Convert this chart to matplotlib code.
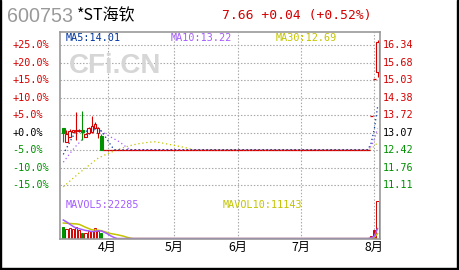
import matplotlib
matplotlib.use("Agg")
import matplotlib.pyplot as plt
import numpy as np
import pandas as pd
from matplotlib.patches import Rectangle
from matplotlib.transforms import blended_transform_factory as blend

# ---------------- data ----------------
stock_code = "600753"
stock_name = "*ST海钦"
quote_text = "7.66 +0.04 (+0.52%)"
base_close = 13.07

# closes / volumes before the visible window (needed for the moving averages)
prior_close = [9.90, 9.95, 10.00, 10.10, 10.15, 10.25, 10.30, 10.40, 10.45, 10.55,
               10.60, 10.70, 10.75, 10.85, 10.90, 11.00, 11.05, 11.15, 11.20, 11.30,
               11.45, 11.55, 11.65, 11.75, 11.95, 11.85, 12.00, 12.10, 12.25]
prior_volume = [26500, 27500, 28500, 28500, 30000, 43000, 47000, 46000, 46300]

# trading days in March before suspension
march_open = [13.24, 12.73, 12.91, 13.10, 13.12, 13.12, 13.16, 12.91, 13.04, 13.10, 13.23, 13.04, 12.95]
march_high = [13.24, 13.16, 13.19, 13.18, 13.82, 13.20, 13.88, 13.05, 13.28, 13.70, 13.48, 13.26, 13.00]
march_low = [12.73, 12.73, 12.90, 13.08, 12.79, 13.08, 12.79, 12.91, 13.02, 13.06, 13.20, 12.86, 12.43]
march_close = [13.06, 13.00, 13.13, 13.16, 13.16, 13.16, 13.10, 13.00, 13.25, 13.30, 13.38, 13.23, 12.43]
march_volume = [26700, 21500, 23000, 21500, 25300, 19200, 11700, 13100, 16900, 16900, 23000, 16900, 11700]

# suspension period (flat line)
suspended_days = 84
suspended_price = 12.43

# trading days after resumption
resume_open = [13.68, 15.05, 15.32]
resume_high = [13.68, 15.05, 16.53]
resume_low = [13.68, 15.05, 15.14]
resume_close = [13.68, 15.05, 16.46]
resume_volume = [6700, 20025, 84701]

month_labels = ["4月", "5月", "6月", "7月", "8月"]
month_start_index = [14, 35, 55, 75, 98]

pct_ticks = [25, 20, 15, 10, 5, 0, -5, -10, -15]
pct_labels = ["+25.0%", "+20.0%", "+15.0%", "+10.0%", "+5.0%", "+0.0%", "-5.0%", "-10.0%", "-15.0%"]
price_labels = ["16.34", "15.68", "15.03", "14.38", "13.72", "13.07", "12.42", "11.76", "11.11"]

# ---------------- build series ----------------
opens = march_open + [suspended_price] * suspended_days + resume_open
highs = march_high + [suspended_price] * suspended_days + resume_high
lows = march_low + [suspended_price] * suspended_days + resume_low
closes = march_close + [suspended_price] * suspended_days + resume_close
vols = march_volume + [0] * suspended_days + resume_volume
n = len(closes)
idx = np.arange(n)

all_close = pd.Series(prior_close + closes)
all_vol = pd.Series(prior_volume + vols, dtype=float)
ma5 = all_close.rolling(5).mean().values[-n:]
ma10 = all_close.rolling(10).mean().values[-n:]
ma30 = all_close.rolling(30).mean().values[-n:]
mv5 = all_vol.rolling(5).mean().values[-n:]
mv10 = all_vol.rolling(10).mean().values[-n:]

# ---------------- style ----------------
RED = "#d40000"
GREEN = "#009000"
MA5_C = "#00359c"
MA10_C = "#a45cff"
MA30_C = "#c4c400"
GRID = "#a8a8a8"
FRAME = "#9a9a9a"
MONO = "DejaVu Sans Mono"
CJK = ["Noto Sans CJK SC", "DejaVu Sans"]

W, H = 460, 270
fig = plt.figure(figsize=(W / 100, H / 100), dpi=100)
fig.patch.set_facecolor("white")


def fx(px):
    return px / W


def fy(py):
    return 1 - py / H


L_, R_, T_, MID, B_ = 60, 380, 32, 197, 239
xl = ((L_ - 63.3) / 3.174, (R_ - 63.3) / 3.174)

ax_frame = fig.add_axes([fx(L_), fy(B_), fx(R_) - fx(L_), (B_ - T_) / H])
ax_frame.set_xticks([]); ax_frame.set_yticks([])
for s in ax_frame.spines.values():
    s.set_color(FRAME); s.set_linewidth(1.2)
ax_frame.set_zorder(5); ax_frame.patch.set_alpha(0)

ax = fig.add_axes([fx(L_), fy(MID), fx(R_) - fx(L_), (MID - T_) / H])
axv = fig.add_axes([fx(L_), fy(B_), fx(R_) - fx(L_), (B_ - MID) / H])
for a in (ax, axv):
    a.set_xlim(*xl)
    a.axis("off")

p_per_px = base_close * 0.05 / 17.5
ax.set_ylim(base_close - (MID - 132.5) * p_per_px, base_close + (132.5 - T_) * p_per_px)
v_per_px = vols[-1] / 37.5
axv.set_ylim(-0.5 * v_per_px, (B_ - MID - 0.5) * v_per_px)

grid_dash = (0, (1.3, 1.6))
tick_prices = [base_close * (1 + p / 100) for p in pct_ticks]
for tp in tick_prices:
    ax.axhline(tp, color=GRID, lw=0.8, ls=grid_dash, zorder=1)
for m in month_start_index:
    ax.axvline(m, color=GRID, lw=0.8, ls=grid_dash, zorder=1)
    axv.axvline(m, color=GRID, lw=0.8, ls=grid_dash, zorder=1)

# moving averages
dots = (0, (1, 2.2))
ax.plot(idx, ma30, color=MA30_C, lw=0.9, ls=dots, zorder=2)
ax.plot(idx, ma10, color=MA10_C, lw=0.9, ls=dots, zorder=2)
ax.plot(idx, ma5, color=MA5_C, lw=0.9, ls=dots, zorder=2)

# candles
bw = 0.8
for i in range(n):
    o, h, l, c = opens[i], highs[i], lows[i], closes[i]
    if c == o:
        ax.hlines(c, i - 0.5, i + 0.5, color=RED, lw=0.9, zorder=3)
        if h > l:
            ax.vlines(i, l, h, color=RED, lw=0.8, zorder=3)
        continue
    up = c > o
    col = RED if up else GREEN
    lo, hi = min(o, c), max(o, c)
    if h > hi:
        ax.vlines(i, hi, h, color=col, lw=0.8, zorder=3)
    if l < lo:
        ax.vlines(i, l, lo, color=col, lw=0.8, zorder=3)
    ax.add_patch(Rectangle((i - bw / 2, lo), bw, hi - lo,
                           facecolor="white" if up else col, edgecolor=col,
                           lw=0.8, zorder=4))

# volume bars
vw = 0.7
for i in range(n):
    v = vols[i]
    if v <= 0:
        continue
    up = closes[i] > opens[i]
    col = GREEN if closes[i] < opens[i] else RED
    axv.add_patch(Rectangle((i - vw / 2, 0), vw, v,
                            facecolor="white" if up else col, edgecolor=col,
                            lw=0.7, zorder=3))
axv.plot(idx, mv10, color=MA30_C, lw=1.1, zorder=4)
axv.plot(idx, mv5, color=MA10_C, lw=1.1, zorder=4)

# axis labels
tr_left = blend(fig.transFigure, ax.transData)
for tp, pl, rl, p in zip(tick_prices, pct_labels, price_labels, pct_ticks):
    col = RED if p > 0 else ("black" if p == 0 else GREEN)
    fig.text(fx(12.5), tp, pl, transform=tr_left, color=col, fontsize=7.3,
             family=MONO, ha="left", va="center")
    fig.text(fx(383), tp, rl, transform=tr_left, color=col, fontsize=7.3,
             family=MONO, ha="left", va="center")

tr_month = blend(axv.transData, fig.transFigure)
for m, lab in zip(month_start_index, month_labels):
    fig.text(m, fy(247.5), lab, transform=tr_month, family=CJK, fontsize=8.8,
             ha="center", va="center", color="black")

# MA legends
fig.text(fx(65.5), fy(38), f"MA5:{ma5[-1]:.2f}", color=MA5_C, family=MONO, fontsize=7.3, va="center")
fig.text(fx(170.5), fy(38), f"MA10:{ma10[-1]:.2f}", color=MA10_C, family=MONO, fontsize=7.3, va="center")
fig.text(fx(276), fy(38), f"MA30:{ma30[-1]:.2f}", color=MA30_C, family=MONO, fontsize=7.3, va="center")
fig.text(fx(65.5), fy(205.5), f"MAVOL5:{mv5[-1]:.0f}", color=MA10_C, family=MONO, fontsize=7.3, va="center")
fig.text(fx(222.5), fy(205.5), f"MAVOL10:{mv10[-1]:.0f}", color=MA30_C, family=MONO, fontsize=7.3, va="center")

# watermark
fig.text(fx(69), fy(66), "CFi.CN", color="#d6d6d6", family="Liberation Sans",
         fontweight="bold", fontsize=20, va="center", ha="left", zorder=0)

# header
fig.text(fx(7.5), fy(16), stock_code, color="#999999", family="Liberation Sans",
         fontsize=14.2, va="center", ha="left")
fig.text(fx(76.5), fy(15.5), stock_name, color="black", family=CJK,
         fontsize=11.5, va="center", ha="left")
fig.text(fx(222.5), fy(15.5), quote_text, color=RED, family=MONO,
         fontsize=9.4, va="center", ha="left")

# outer black border (left, right, bottom)
fig.patches.append(Rectangle((0, 0), fx(1), 1, transform=fig.transFigure, color="black"))
fig.patches.append(Rectangle((fx(457), 0), fx(3), 1, transform=fig.transFigure, color="black"))
fig.patches.append(Rectangle((0, 0), 1, 1.8 / H, transform=fig.transFigure, color="black"))

fig.savefig("out.png", dpi=100)
